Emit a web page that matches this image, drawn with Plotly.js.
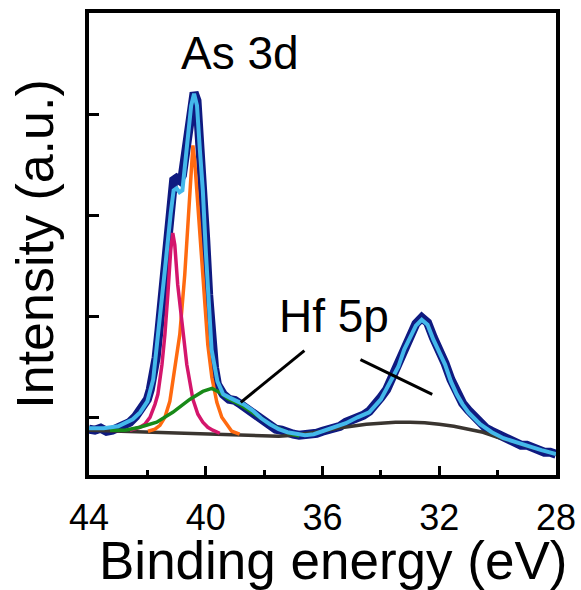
<!DOCTYPE html>
<html>
<head>
<meta charset="utf-8">
<script src="https://cdn.plot.ly/plotly-3.0.1.min.js"></script>
<style>
  html, body { margin: 0; padding: 0; background: #ffffff; }
  #chart { width: 581px; height: 590px; }
</style>
</head>
<body>
<div id="chart"></div>
<script>
// XPS spectrum of the As 3d / Hf 5p region: measured data, fitted envelope,
// Shirley-type background and the three As 3d fit components.

// Measured spectrum (binding energy in eV, intensity in a.u.)
const rawEnergy = [44.0, 43.8, 43.6, 43.4, 43.2, 43.0, 42.8, 42.6, 42.4, 42.2, 42.0, 41.9, 41.8, 41.7, 41.6, 41.5, 41.4, 41.3, 41.2, 41.1, 41.0, 40.9, 40.8, 40.7, 40.6, 40.5, 40.4, 40.3, 40.2, 40.1, 40.0, 39.9, 39.8, 39.7, 39.6, 39.4, 39.2, 39.0, 38.8, 38.6, 38.4, 38.2, 38.0, 37.8, 37.6, 37.4, 37.2, 37.0, 36.8, 36.6, 36.4, 36.2, 36.0, 35.8, 35.6, 35.4, 35.2, 35.0, 34.8, 34.6, 34.4, 34.2, 34.0, 33.8, 33.6, 33.4, 33.2, 33.0, 32.8, 32.6, 32.4, 32.2, 32.0, 31.8, 31.6, 31.4, 31.2, 31.0, 30.8, 30.6, 30.4, 30.2, 30.0, 29.8, 29.6, 29.4, 29.2, 29.0, 28.8, 28.6, 28.4, 28.2, 28.0];
const rawCounts = [-11.8, -12.8, -10.8, -13.8, -12.8, -9.9, -8.9, -4.9, 1.0, 8.9, 17.7, 27.6, 41.4, 59.1, 86.7, 116.3, 150.7, 185.2, 214.8, 234.5, 236.5, 234.5, 239.4, 264.0, 288.7, 313.3, 321.2, 313.3, 273.9, 229.5, 175.4, 121.2, 76.8, 49.3, 32.5, 22.7, 17.7, 16.7, 12.8, 8.9, 4.9, 0.0, -3.9, -7.9, -11.8, -12.8, -15.8, -16.7, -17.7, -17.7, -16.7, -15.8, -13.8, -12.8, -9.9, -8.9, -4.9, -3.0, 0.0, 2.0, 5.9, 11.8, 19.7, 27.6, 40.4, 52.2, 68.0, 80.8, 92.6, 98.5, 93.6, 78.8, 67.0, 53.2, 37.4, 23.6, 13.8, 6.9, 0.0, -4.9, -10.8, -13.8, -16.7, -20.7, -21.7, -24.6, -27.6, -27.6, -30.5, -31.5, -34.5, -34.5, -36.5];

// Fitted envelope
const fitEnergy = [44.0, 43.5, 43.0, 42.5, 42.25, 42.0, 41.8, 41.6, 41.4, 41.2, 41.1, 41.0, 40.9, 40.8, 40.7, 40.6, 40.5, 40.4, 40.3, 40.2, 40.1, 40.0, 39.8, 39.6, 39.4, 39.2, 39.0, 38.7, 38.4, 38.1, 37.8, 37.5, 37.2, 36.9, 36.6, 36.3, 36.0, 35.6, 35.2, 34.8, 34.4, 34.0, 33.8, 33.6, 33.4, 33.2, 33.0, 32.8, 32.6, 32.4, 32.2, 32.0, 31.8, 31.6, 31.4, 31.2, 31.0, 30.6, 30.2, 29.8, 29.4, 29.0, 28.5, 28.0];
const fitCounts = [-10.8, -10.8, -8.9, -2.0, 4.9, 15.8, 37.4, 96.5, 145.8, 202.0, 224.6, 226.6, 222.7, 224.6, 254.0, 278.8, 308.4, 320.2, 308.4, 264.0, 224.6, 165.5, 67.0, 35.5, 22.7, 19.7, 16.7, 12.8, 6.9, -1.0, -6.9, -11.8, -14.8, -16.7, -17.7, -16.7, -13.8, -10.8, -5.9, 0.0, 4.9, 17.7, 27.6, 39.4, 50.2, 67.0, 78.8, 90.6, 96.5, 91.6, 76.8, 65.0, 52.2, 35.5, 22.7, 12.8, 4.9, -6.9, -14.8, -20.7, -24.6, -28.6, -32.5, -36.5];

// Background
const bgEnergy = [44.0, 43.0, 42.0, 41.0, 40.0, 39.0, 38.0, 37.5, 37.0, 36.5, 36.0, 35.5, 35.0, 34.5, 34.0, 33.5, 33.0, 32.5, 32.0, 31.5, 31.0, 30.5, 30.0, 29.5, 29.0, 28.5, 28.0];
const bgCounts = [-12.8, -13.8, -14.8, -15.8, -16.7, -17.7, -18.7, -18.7, -17.7, -15.8, -13.8, -10.8, -8.9, -6.9, -5.9, -4.9, -4.9, -5.4, -6.9, -8.9, -11.8, -14.8, -19.7, -23.6, -28.6, -32.5, -36.5];

// As 3d5/2 component
const as52Energy = [41.98, 41.74, 41.57, 41.40, 41.23, 41.06, 40.89, 40.72, 40.62, 40.55, 40.48, 40.44, 40.38, 40.27, 40.14, 40.03, 39.93, 39.79, 39.62, 39.45, 39.28, 39.11, 38.84];
const as52Counts = [-13.8, -11.8, -7.9, 0.0, 15.8, 47.3, 81.8, 140.9, 185.2, 219.7, 254.2, 269.0, 254.2, 209.8, 145.8, 106.4, 71.9, 39.4, 14.8, 0.0, -6.9, -13.8, -16.7];

// As 3d3/2 component
const as32Energy = [42.60, 42.26, 42.09, 41.91, 41.74, 41.64, 41.50, 41.40, 41.30, 41.20, 41.13, 41.06, 40.96, 40.82, 40.65, 40.44, 40.27, 40.10, 39.93, 39.76, 39.52];
const as32Counts = [-12.8, -9.9, -6.9, 0.0, 12.8, 22.7, 52.2, 81.8, 121.2, 165.5, 182.3, 170.4, 131.0, 96.5, 52.2, 17.7, 3.0, -4.9, -9.9, -12.8, -15.8];

// Oxidised As component
const asOxEnergy = [43.28, 42.77, 42.26, 41.68, 41.13, 40.55, 40.10, 39.79, 39.52, 39.25, 38.84, 38.50, 38.15, 37.81, 37.47, 37.13, 36.79];
const asOxCounts = [-12.8, -12.8, -9.9, -4.9, 4.9, 17.7, 25.6, 28.6, 24.6, 18.7, 12.8, 6.9, 0.0, -6.9, -11.8, -15.8, -18.7];

// Axis ticks
const xTickVals = [44, 40, 36, 32, 28];
const xTickText = ['44', '40', '36', '32', '28'];
const xMinorVals = [42, 38, 34, 30];
const yTickVals = [0, 100, 200, 300];

const FONT = 'Liberation Sans, Arial, Helvetica, sans-serif';

function line(x, y, color, width) {
  return { x: x, y: y, type: 'scatter', mode: 'lines',
           line: { color: color, width: width, shape: 'linear' },
           hoverinfo: 'skip', showlegend: false };
}

const traces = [
  line(rawEnergy, rawCounts, '#0f1a80', 9),
  line(bgEnergy, bgCounts, '#3a3530', 3.5),
  line(as52Energy, as52Counts, '#ff6a10', 3.5),
  line(as32Energy, as32Counts, '#d4166c', 3.5),
  line(asOxEnergy, asOxCounts, '#188a18', 3.5),
  line(fitEnergy, fitCounts, '#44b8ea', 4)
];

const layout = {
  width: 581, height: 590,
  margin: { l: 89, r: 25, t: 13, b: 115, pad: 0 },
  paper_bgcolor: '#ffffff', plot_bgcolor: '#ffffff',
  showlegend: false,
  font: { family: FONT, color: '#000000' },
  xaxis: {
    range: [44, 28],
    tickmode: 'array', tickvals: xTickVals, ticktext: xTickText,
    ticks: 'inside', ticklen: 9, tickwidth: 3, tickcolor: '#000000',
    minor: { tickmode: 'array', tickvals: xMinorVals, ticks: 'inside', ticklen: 5, tickwidth: 3, tickcolor: '#000000' },
    showline: true, linewidth: 4, linecolor: '#000000', mirror: true,
    showgrid: false, zeroline: false,
    tickfont: { family: FONT, size: 36, color: '#000000' },
    ticklabelstandoff: 8
  },
  yaxis: {
    range: [-57.1, 400],
    tickmode: 'array', tickvals: yTickVals,
    ticks: 'inside', ticklen: 10, tickwidth: 3, tickcolor: '#000000',
    showticklabels: false,
    showline: true, linewidth: 4, linecolor: '#000000', mirror: true,
    showgrid: false, zeroline: false,
    title: { text: 'Intensity (a.u.)', font: { family: FONT, size: 52, color: '#000000' }, standoff: 16 }
  },
  annotations: [
    { text: 'Binding energy (eV)', x: 0.523, y: -0.186, xref: 'paper', yref: 'paper', showarrow: false,
      xanchor: 'center', yanchor: 'middle', font: { family: FONT, size: 53, color: '#000000' } },
    { text: 'As 3d', x: 38.84, y: 360, xref: 'x', yref: 'y', showarrow: false,
      xanchor: 'center', yanchor: 'middle', font: { family: FONT, size: 46, color: '#000000' } },
    { text: 'Hf 5p', x: 35.62, y: 100, xref: 'x', yref: 'y', showarrow: false,
      xanchor: 'center', yanchor: 'middle', font: { family: FONT, size: 46, color: '#000000' } }
  ],
  shapes: [
    { type: 'line', xref: 'x', yref: 'y', x0: 36.62, y0: 66, x1: 38.80, y1: 14.8,
      line: { color: '#000000', width: 3 } },
    { type: 'line', xref: 'x', yref: 'y', x0: 34.70, y0: 57.1, x1: 32.24, y1: 22.7,
      line: { color: '#000000', width: 3 } }
  ]
};

Plotly.newPlot('chart', traces, layout, { staticPlot: true, displayModeBar: false });
</script>
</body>
</html>
